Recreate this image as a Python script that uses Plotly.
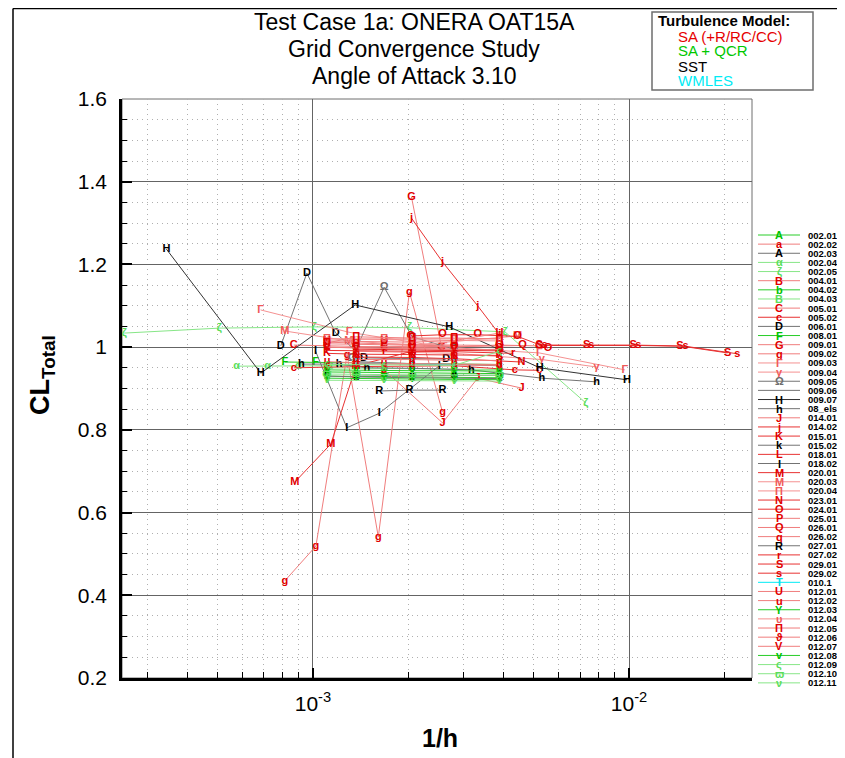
import plotly.graph_objects as go

# ---------------- data (1/h, CL_Total) ----------------
x_002_01 = [1.108e-3, 1.68e-3, 2.8e-3, 3.89e-3]
y_002_01 = [0.940, 0.938, 0.937, 0.936]
x_002_02 = [1.108e-3, 1.37e-3, 1.68e-3, 2.06e-3, 2.8e-3, 3.89e-3]
y_002_02 = [1.000, 0.998, 0.997, 0.996, 0.995, 0.994]
x_002_03 = [1.37e-3, 2.06e-3, 2.8e-3, 3.89e-3]
y_002_03 = [0.930, 0.931, 0.932, 0.932]
x_002_04 = [5.74e-4, 7.19e-4, 9.0e-4, 1.13e-3, 1.37e-3]
y_002_04 = [0.954, 0.954, 0.954, 0.955, 0.956]
x_002_05 = [2.53e-4, 5.06e-4, 1.01e-3, 2.02e-3, 4.05e-3, 7.3e-3]
y_002_05 = [1.034, 1.046, 1.049, 1.047, 1.037, 0.865]
x_004_01 = [1.108e-3, 1.68e-3, 2.8e-3, 3.89e-3]
y_004_01 = [1.012, 1.008, 1.005, 1.004]
x_004_02 = [1.108e-3, 1.37e-3, 1.68e-3, 2.06e-3, 2.8e-3, 3.89e-3]
y_004_02 = [0.930, 0.929, 0.928, 0.928, 0.927, 0.926]
x_004_03 = [1.108e-3, 1.68e-3, 2.8e-3, 3.89e-3]
y_004_03 = [0.950, 0.948, 0.947, 0.946]
x_005_01 = [8.7e-4, 1.108e-3, 1.37e-3, 1.68e-3, 2.06e-3, 2.8e-3]
y_005_01 = [1.005, 1.003, 1.001, 1.000, 0.999, 0.998]
x_005_02 = [8.7e-4, 1.108e-3, 1.37e-3, 2.06e-3, 2.8e-3, 4.35e-3, 5.2e-3]
y_005_02 = [0.950, 0.952, 0.953, 0.954, 0.955, 0.945, 0.944]
x_006_01 = [7.91e-4, 9.57e-4, 1.18e-3, 1.45e-3, 2.64e-3]
y_006_01 = [1.003, 1.179, 1.034, 0.974, 0.971]
x_008_01 = [8.15e-4, 1.02e-3, 1.37e-3, 2.06e-3, 2.8e-3, 3.89e-3]
y_008_01 = [0.964, 0.963, 0.962, 0.961, 0.960, 0.958]
x_009_01 = [2.05e-3, 2.55e-3, 3.89e-3, 5.2e-3]
y_009_01 = [1.363, 1.000, 1.005, 1.003]
x_009_02 = [8.15e-4, 1.022e-3, 1.282e-3, 1.61e-3, 2.02e-3, 2.57e-3]
y_009_02 = [0.435, 0.519, 0.981, 0.541, 1.133, 0.843]
x_009_03 = [6.83e-4, 1.3e-3, 2.6e-3, 5.2e-3, 9.7e-3]
y_009_03 = [1.090, 1.036, 1.000, 0.986, 0.945]
x_009_04 = [1.37e-3, 2.8e-3, 5.3e-3, 7.9e-3]
y_009_04 = [0.990, 0.985, 0.970, 0.952]
x_009_05 = [1.33e-3, 1.68e-3, 2.06e-3, 2.8e-3]
y_009_05 = [0.974, 1.145, 1.025, 0.995]
x_009_06 = [1.37e-3, 1.68e-3, 2.06e-3, 2.8e-3, 3.89e-3]
y_009_06 = [0.965, 0.962, 0.960, 0.958, 0.955]
x_009_07 = [3.44e-4, 6.84e-4, 1.36e-3, 2.70e-3, 5.22e-3, 9.85e-3]
y_009_07 = [1.237, 0.937, 1.102, 1.049, 0.950, 0.921]
x_08_els = [9.2e-4, 1.21e-3, 1.48e-3, 2.06e-3, 3.17e-3, 5.3e-3, 7.9e-3]
y_08_els = [0.959, 0.959, 0.950, 0.949, 0.945, 0.925, 0.916]
x_014_01 = [1.68e-3, 2.57e-3, 3.32e-3, 4.57e-3]
y_014_01 = [0.945, 0.817, 0.925, 0.901]
x_014_02 = [2.05e-3, 2.57e-3, 3.32e-3, 3.9e-3]
y_014_02 = [1.312, 1.206, 1.100, 1.030]
x_015_01 = [1.108e-3, 1.37e-3, 2.06e-3, 2.8e-3, 3.89e-3]
y_015_01 = [0.985, 0.983, 0.982, 0.981, 0.980]
x_015_02 = [1.108e-3, 1.37e-3, 2.06e-3, 2.8e-3, 3.89e-3]
y_015_02 = [0.930, 0.928, 0.926, 0.925, 0.924]
x_018_01 = [1.37e-3, 2.06e-3, 2.8e-3, 3.89e-3]
y_018_01 = [0.995, 0.993, 0.992, 0.991]
x_018_02 = [1.02e-3, 1.28e-3, 1.62e-3, 2.51e-3]
y_018_02 = [0.990, 0.805, 0.840, 0.955]
x_020_01 = [8.77e-4, 1.14e-3, 1.37e-3, 2.06e-3, 3.89e-3]
y_020_01 = [0.674, 0.766, 0.955, 0.990, 0.995]
x_020_03 = [8.15e-4, 1.3e-3, 2.06e-3, 4.44e-3]
y_020_03 = [1.039, 1.015, 1.005, 1.027]
x_020_04 = [1.108e-3, 1.68e-3, 2.8e-3, 3.89e-3]
y_020_04 = [1.020, 1.018, 1.016, 1.015]
x_023_01 = [1.37e-3, 2.06e-3, 2.8e-3, 4.57e-3]
y_023_01 = [0.976, 0.975, 0.972, 0.964]
x_024_01 = [2.04e-3, 2.57e-3, 3.32e-3, 4.44e-3, 5.54e-3]
y_024_01 = [1.027, 1.030, 1.030, 1.026, 0.998]
x_025_01 = [1.108e-3, 1.37e-3, 1.68e-3, 2.06e-3, 2.8e-3]
y_025_01 = [1.008, 1.007, 1.006, 1.004, 1.003]
x_026_01 = [1.37e-3, 2.06e-3, 2.8e-3, 3.89e-3, 4.6e-3]
y_026_01 = [1.000, 1.002, 1.001, 1.004, 1.004]
x_026_02 = [1.37e-3, 2.06e-3, 2.8e-3, 3.89e-3]
y_026_02 = [0.960, 0.958, 0.957, 0.956]
x_027_01 = [1.62e-3, 2.02e-3, 2.57e-3]
y_027_01 = [0.894, 0.896, 0.896]
x_027_02 = [1.108e-3, 1.68e-3, 2.8e-3, 4.3e-3]
y_027_02 = [0.992, 0.990, 0.989, 0.985]
x_029_01 = [5.2e-3, 7.35e-3, 1.03e-2, 1.45e-2, 2.05e-2]
y_029_01 = [1.005, 1.005, 1.005, 1.003, 0.986]
x_029_02 = [5.4e-3, 7.6e-3, 1.07e-2, 1.51e-2, 2.2e-2]
y_029_02 = [1.004, 1.004, 1.004, 1.002, 0.984]
x_010_1 = [1.37e-3, 2.06e-3, 2.8e-3]
y_010_1 = [0.962, 0.960, 0.958]
x_012_01 = [1.108e-3, 1.37e-3, 1.68e-3, 2.06e-3, 2.8e-3, 3.89e-3]
y_012_01 = [1.015, 1.014, 1.014, 1.012, 1.016, 1.034]
x_012_02 = [1.108e-3, 1.37e-3, 1.68e-3, 2.06e-3, 2.8e-3, 3.89e-3]
y_012_02 = [0.965, 0.962, 0.961, 0.960, 0.959, 0.958]
x_012_03 = [1.108e-3, 1.37e-3, 1.68e-3, 2.06e-3, 2.8e-3, 3.89e-3]
y_012_03 = [0.925, 0.924, 0.924, 0.923, 0.922, 0.922]
x_012_04 = [1.108e-3, 1.68e-3, 2.8e-3, 3.89e-3]
y_012_04 = [1.020, 1.020, 1.020, 1.020]
x_012_05 = [1.108e-3, 1.37e-3, 2.06e-3, 2.8e-3, 3.89e-3]
y_012_05 = [1.010, 1.025, 1.022, 1.022, 1.020]
x_012_06 = [1.37e-3, 2.06e-3, 2.8e-3, 3.89e-3]
y_012_06 = [0.970, 0.970, 0.968, 0.968]
x_012_07 = [1.108e-3, 1.37e-3, 2.06e-3, 2.8e-3, 3.89e-3]
y_012_07 = [1.000, 0.998, 0.996, 0.995, 0.994]
x_012_08 = [1.108e-3, 1.37e-3, 2.06e-3, 2.8e-3, 3.89e-3]
y_012_08 = [0.945, 0.944, 0.943, 0.943, 0.942]
x_012_09 = [1.108e-3, 1.68e-3, 2.8e-3, 3.89e-3]
y_012_09 = [0.958, 0.957, 0.956, 0.990]
x_012_10 = [1.108e-3, 1.37e-3, 2.06e-3, 3.89e-3]
y_012_10 = [0.935, 0.934, 0.933, 0.932]
x_012_11 = [1.108e-3, 1.68e-3, 2.8e-3, 3.89e-3]
y_012_11 = [0.920, 0.919, 0.918, 0.918]

# (label, symbol, x, y, style)
SERIES = [
    ("002.01", "A", x_002_01, y_002_01, "green"),
    ("002.02", "a", x_002_02, y_002_02, "pink"),
    ("002.03", "A", x_002_03, y_002_03, "gray"),
    ("002.04", "α", x_002_04, y_002_04, "lightgreen"),
    ("002.05", "ζ", x_002_05, y_002_05, "lightgreen"),
    ("004.01", "B", x_004_01, y_004_01, "pink"),
    ("004.02", "b", x_004_02, y_004_02, "green"),
    ("004.03", "B", x_004_03, y_004_03, "lightgreen"),
    ("005.01", "C", x_005_01, y_005_01, "pink"),
    ("005.02", "c", x_005_02, y_005_02, "red"),
    ("006.01", "D", x_006_01, y_006_01, "gray"),
    ("008.01", "F", x_008_01, y_008_01, "green"),
    ("009.01", "G", x_009_01, y_009_01, "pink"),
    ("009.02", "g", x_009_02, y_009_02, "pink"),
    ("009.03", "Γ", x_009_03, y_009_03, "lightred"),
    ("009.04", "γ", x_009_04, y_009_04, "lightred"),
    ("009.05", "Ω", x_009_05, y_009_05, "grayt"),
    ("009.06", "", x_009_06, y_009_06, "gray"),
    ("009.07", "H", x_009_07, y_009_07, "black"),
    ("08_els", "h", x_08_els, y_08_els, "gray"),
    ("014.01", "J", x_014_01, y_014_01, "pink"),
    ("014.02", "j", x_014_02, y_014_02, "red"),
    ("015.01", "K", x_015_01, y_015_01, "red"),
    ("015.02", "k", x_015_02, y_015_02, "gray"),
    ("018.01", "L", x_018_01, y_018_01, "red"),
    ("018.02", "I", x_018_02, y_018_02, "gray"),
    ("020.01", "M", x_020_01, y_020_01, "red"),
    ("020.03", "M", x_020_03, y_020_03, "lightred"),
    ("020.04", "Π", x_020_04, y_020_04, "lightred"),
    ("023.01", "N", x_023_01, y_023_01, "red"),
    ("024.01", "O", x_024_01, y_024_01, "red"),
    ("025.01", "P", x_025_01, y_025_01, "pink"),
    ("026.01", "Q", x_026_01, y_026_01, "pink"),
    ("026.02", "q", x_026_02, y_026_02, "pink"),
    ("027.01", "R", x_027_01, y_027_01, "gray"),
    ("027.02", "r", x_027_02, y_027_02, "red"),
    ("029.01", "S", x_029_01, y_029_01, "red"),
    ("029.02", "s", x_029_02, y_029_02, "red"),
    ("010.1", "T", x_010_1, y_010_1, "cyan"),
    ("012.01", "U", x_012_01, y_012_01, "pink"),
    ("012.02", "u", x_012_02, y_012_02, "pink"),
    ("012.03", "Y", x_012_03, y_012_03, "green"),
    ("012.04", "υ", x_012_04, y_012_04, "lightred"),
    ("012.05", "Π", x_012_05, y_012_05, "pink"),
    ("012.06", "ϑ", x_012_06, y_012_06, "pink"),
    ("012.07", "V", x_012_07, y_012_07, "pink"),
    ("012.08", "v", x_012_08, y_012_08, "green"),
    ("012.09", "ς", x_012_09, y_012_09, "lightgreen"),
    ("012.10", "ϖ", x_012_10, y_012_10, "lightgreen"),
    ("012.11", "ν", x_012_11, y_012_11, "lightgreen"),
]

MODELS = [("SA (+R/RC/CC)", "rgb(230,0,0)"), ("SA + QCR", "rgb(0,200,0)"),
          ("SST", "rgb(0,0,0)"), ("WMLES", "rgb(0,235,245)")]

# ---------------- styles ----------------
STYLE = {
    "red": ("rgb(232,50,50)", "rgb(225,0,0)"),
    "pink": ("rgb(240,125,125)", "rgb(225,0,0)"),
    "lightred": ("rgb(245,145,145)", "rgb(240,90,90)"),
    "green": ("rgb(40,205,40)", "rgb(0,195,0)"),
    "lightgreen": ("rgb(135,230,135)", "rgb(90,222,90)"),
    "black": ("rgb(50,50,50)", "rgb(0,0,0)"),
    "gray": ("rgb(115,115,115)", "rgb(0,0,0)"),
    "grayt": ("rgb(115,115,115)", "rgb(110,110,110)"),
    "cyan": ("rgb(0,235,245)", "rgb(0,220,235)"),
}
FONT = "Liberation Sans, Arial, Helvetica, sans-serif"

# page offset: the html body has an 8px margin
OFF = 8
W, H = 845 - OFF, 758 - OFF
P_LEFT, P_RIGHT, P_TOP, P_BOT = 122, 752, 99, 678   # plot area in page pixels
ML, MR, MT, MB = P_LEFT - OFF, W - (P_RIGHT - OFF), P_TOP - OFF, H - (P_BOT - OFF)
PW, PH = W - ML - MR, H - MT - MB


def px(x):
    return (x - P_LEFT) / PW


def py(y):
    return (P_BOT - y) / PH


fig = go.Figure()
for name, sym, xs, ys, st in SERIES:
    lc, tc = STYLE[st]
    if sym:
        fig.add_trace(go.Scatter(
            x=xs, y=ys, mode="lines+text", text=[sym] * len(xs),
            textposition="middle center",
            textfont=dict(family=FONT, size=11, color=tc, weight="bold"),
            line=dict(color=lc, width=1), name=name, showlegend=False,
            hoverinfo="x+y+name"))
    else:
        fig.add_trace(go.Scatter(x=xs, y=ys, mode="lines",
                                 line=dict(color=lc, width=1), name=name,
                                 showlegend=False))

minor_x = [k * 10.0 ** e for e in (-4, -3, -2) for k in range(2, 10)]
minor_x = [v for v in minor_x if 2.46e-4 < v < 2.45e-2]

fig.update_xaxes(
    type="log", range=[-3.604, -1.611],
    tickvals=[1e-3, 1e-2], ticktext=["10<sup>-3</sup>", "10<sup>-2</sup>"],
    ticks="inside", ticklen=10, tickwidth=2, tickcolor="black",
    showline=True, linecolor="black", linewidth=2.5,
    showgrid=True, gridcolor="rgb(100,100,100)", gridwidth=1,
    zeroline=False, tickfont=dict(family=FONT, size=21, color="black"),
    ticklabelstandoff=5,
    minor=dict(tickvals=minor_x, ticks="inside", ticklen=6, tickwidth=1,
               tickcolor="black", showgrid=True, gridcolor="rgb(175,175,175)",
               griddash="1px,4px", gridwidth=1),
)
fig.update_yaxes(
    range=[0.2, 1.6], tick0=0.2, dtick=0.2,
    ticks="inside", ticklen=10, tickwidth=2, tickcolor="black",
    showline=True, linecolor="black", linewidth=2.5,
    showgrid=True, gridcolor="rgb(100,100,100)", gridwidth=1,
    zeroline=False, tickfont=dict(family=FONT, size=21, color="black"),
    ticklabelstandoff=8,
    minor=dict(dtick=0.05, ticks="inside", ticklen=5, tickwidth=1,
               tickcolor="black", showgrid=True, gridcolor="rgb(175,175,175)",
               griddash="1px,4px", gridwidth=1),
)

shapes = []
annotations = []
# plot frame (gray top/right)
shapes.append(dict(type="rect", xref="paper", yref="paper", x0=0, x1=1, y0=0, y1=1,
                   line=dict(color="rgb(110,110,110)", width=1), layer="below"))
# outer image frame (top and left edges)
shapes.append(dict(type="line", xref="paper", yref="paper", x0=px(13), x1=px(860),
                   y0=py(8.5), y1=py(8.5), line=dict(color="black", width=1.5)))
shapes.append(dict(type="line", xref="paper", yref="paper", x0=px(13), x1=px(13),
                   y0=py(8.5), y1=py(780), line=dict(color="black", width=1.5)))

# title
for i, t in enumerate(["Test Case 1a: ONERA OAT15A", "Grid Convergence Study",
                       "Angle of Attack 3.10"]):
    annotations.append(dict(x=px(414), y=py(22 + 27 * i), xref="paper", yref="paper",
                            text=t, showarrow=False, xanchor="center", yanchor="middle",
                            font=dict(family=FONT, size=23, color="black")))

# axis titles
annotations.append(dict(x=px(42), y=py(375), xref="paper", yref="paper",
                        text="<b>CL<sub>Total</sub></b>", textangle=-90, showarrow=False,
                        xanchor="center", yanchor="middle",
                        font=dict(family=FONT, size=27, color="black")))
annotations.append(dict(x=px(440), y=py(738), xref="paper", yref="paper",
                        text="<b>1/h</b>", showarrow=False,
                        xanchor="center", yanchor="middle",
                        font=dict(family=FONT, size=25, color="black")))

# turbulence model box
shapes.append(dict(type="rect", xref="paper", yref="paper", x0=px(652), x1=px(813),
                   y0=py(90), y1=py(12), line=dict(color="rgb(110,110,110)", width=1.5),
                   fillcolor="white"))
annotations.append(dict(x=px(656), y=py(20), xref="paper", yref="paper",
                        text="<b>Turbulence Model:</b>", showarrow=False,
                        xanchor="left", yanchor="middle",
                        font=dict(family=FONT, size=15, color="black")))
for i, (t, c) in enumerate(MODELS):
    annotations.append(dict(x=px(676), y=py(36 + 15 * i), xref="paper", yref="paper",
                            text=t, showarrow=False, xanchor="left", yanchor="middle",
                            font=dict(family=FONT, size=15, color=c)))

# series legend (right)
for i, (name, sym, xs, ys, st) in enumerate(SERIES):
    lc, tc = STYLE[st]
    yy = py(235 + 9.14 * i)
    shapes.append(dict(type="line", xref="paper", yref="paper", x0=px(758), x1=px(800),
                       y0=yy, y1=yy, line=dict(color=lc, width=1)))
    if sym:
        annotations.append(dict(x=px(779), y=yy, xref="paper", yref="paper", text=sym,
                                showarrow=False, xanchor="center", yanchor="middle",
                                font=dict(family=FONT, size=11, color=tc, weight="bold")))
    annotations.append(dict(x=px(806), y=yy, xref="paper", yref="paper",
                            text="<b>" + name + "</b>", showarrow=False,
                            xanchor="left", yanchor="middle",
                            font=dict(family=FONT, size=9.5, color="black")))

fig.update_layout(
    width=W, height=H, margin=dict(l=ML, r=MR, t=MT, b=MB, pad=0),
    paper_bgcolor="white", plot_bgcolor="white",
    shapes=shapes, annotations=annotations, showlegend=False,
    font=dict(family=FONT),
)

fig.write_html("out.html")
